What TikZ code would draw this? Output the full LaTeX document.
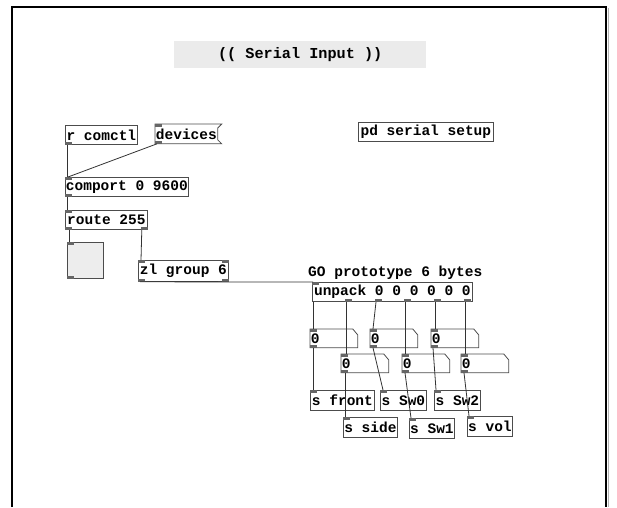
\documentclass[tikz,border=0pt]{standalone}
\usepackage{fontspec}
\newfontfamily\pdfont{Liberation Mono}
\tikzset{
  pdbox/.style={draw=black!70, line width=0.8pt, inner xsep=0.5pt, inner ysep=0pt,
                anchor=north west, minimum height=19pt,
                font={\pdfont\bfseries\fontsize{14.5}{16}\selectfont}},
  pdnum/.style={pdbox, draw=none, text width=46pt, align=left, minimum height=18pt},
  pdmsg/.style={pdbox, draw=none},
  pdline/.style={draw=black!70, line width=0.8pt},
  pdwire/.style={black!80, line width=0.8pt},
  pdport/.style={fill=black!60},
}
\begin{document}
\begin{tikzpicture}[x=1pt, y=-1pt]
  \useasboundingbox (0,0) rectangle (617,507);
  % window frame
  \draw[line width=1.3pt] (12,507) -- (12,7) -- (606,7) -- (606,507);
  \draw[gray!60, line width=1pt] (608.5,8) -- (608.5,507);

  % title comment
  \node[fill=black!8, anchor=north west, minimum width=252pt, minimum height=27pt,
        font={\pdfont\bfseries\fontsize{15.2}{17}\selectfont}]
    (title) at (174,41) {(( Serial Input ))};

  % objects
  \node[pdbox, minimum width=72pt] (rcomctl) at (65,125) {r comctl};
  \node[pdmsg, minimum width=61pt] (devices) at (155,124) {devices};
  \node[pdbox, minimum width=135pt] (setup) at (358,122) {pd serial setup};
  \node[pdbox, minimum width=122pt] (comport) at (65,177) {comport 0 9600};
  \node[pdbox, minimum width=82pt] (route) at (65,210) {route 255};
  \node[draw=black!70, fill=black!7, line width=0.8pt, minimum size=36pt,
        anchor=north west] (toggle) at (67,242) {};
  \node[pdbox, minimum width=90pt, minimum height=21pt] (zlgroup) at (138,260) {zl group 6};
  \node[anchor=west, inner sep=0pt, font={\pdfont\bfseries\fontsize{14.5}{16}\selectfont}]
    (protonote) at (308,273) {GO prototype 6 bytes};
  \node[pdbox, minimum width=160pt] (unpack) at (312,282) {unpack 0 0 0 0 0 0};

  % number boxes
  \foreach \name/\x/\y in {n11/310/329, n12/370/329, n13/431/329,
                           n21/341/354, n22/402/354, n23/461/354} {
    \node[pdnum] (\name) at (\x,\y) {0};
    \draw[pdline] (\name.north west) -- ([xshift=-5pt]\name.north east)
      -- ([yshift=-6pt]\name.north east) -- (\name.south east)
      -- (\name.south west) -- cycle;
  }

  % message box outline
  \draw[pdline] (devices.north west) -- ([xshift=4pt]devices.north east)
    -- ([yshift=-4pt]devices.north east) -- ([yshift=4pt]devices.south east)
    -- ([xshift=4pt]devices.south east) -- (devices.south west) -- cycle;

  % send objects
  \foreach \name/\x/\y/\w/\txt in {front/310/390/64pt/s front, sw0/380/390/46pt/s Sw0,
      sw2/434/390/46pt/s Sw2, side/343/417/54pt/s side, sw1/409/418/45pt/s Sw1,
      vol/467/416/45pt/s vol}
    \node[pdbox, minimum width=\w, minimum height=20pt] (\name) at (\x,\y) {\txt};

  % inlets and outlets
  \foreach \n in {devices, comport, route, toggle, zlgroup, unpack,
                  n11, n12, n13, n21, n22, n23, front, sw0, sw2, side, sw1, vol}
    \fill[pdport] (\n.north west) rectangle ++(7,2.5);
  \foreach \n in {rcomctl, devices, comport, route, toggle, zlgroup,
                  n11, n12, n13, n21, n22, n23}
    \fill[pdport] (\n.south west) rectangle ++(7,-2.5);
  \fill[pdport] (route.south east) rectangle ++(-7,-2.5);
  \fill[pdport] (zlgroup.north east) rectangle ++(-7,2.5);
  \fill[pdport] (zlgroup.south east) rectangle ++(-7,-2.5);
  \foreach \dx in {33pt, 63pt, 92pt, 122pt, 152pt}
    \fill[pdport] ([xshift=\dx]unpack.south west) rectangle ++(7,-2.5);

  % connections
  \draw[pdwire] ([xshift=2pt]rcomctl.south west) -- ([xshift=2pt]comport.north west);
  \draw[pdwire] ([xshift=2pt]devices.south west) -- ([xshift=3pt]comport.north west);
  \draw[pdwire] ([xshift=2pt]comport.south west) -- ([xshift=2pt]route.north west);
  \draw[pdwire] ([xshift=4pt]route.south west) -- ([xshift=2pt]toggle.north west);
  \draw[pdwire] ([xshift=-6pt]route.south east) -- ([xshift=3pt]zlgroup.north west);
  \draw[pdwire] ([xshift=2pt]zlgroup.south west) -- ([xshift=1pt]unpack.north west);
  \foreach \dx/\dst/\ix in {1pt/n11/3pt, 34pt/n21/5pt, 64pt/n12/3pt,
                            93pt/n22/3pt, 123pt/n13/4pt, 153pt/n23/4pt}
    \draw[pdwire] ([xshift=\dx]unpack.south west) -- ([xshift=\ix]\dst.north west);
  \foreach \src/\dst/\ox/\ix in {n11/front/3pt/3pt, n21/side/4pt/2pt, n12/sw0/3pt/3pt,
                                 n22/sw1/3pt/2pt, n13/sw2/2pt/2pt, n23/vol/3pt/2pt}
    \draw[pdwire] ([xshift=\ox]\src.south west) -- ([xshift=\ix]\dst.north west);
\end{tikzpicture}
\end{document}
